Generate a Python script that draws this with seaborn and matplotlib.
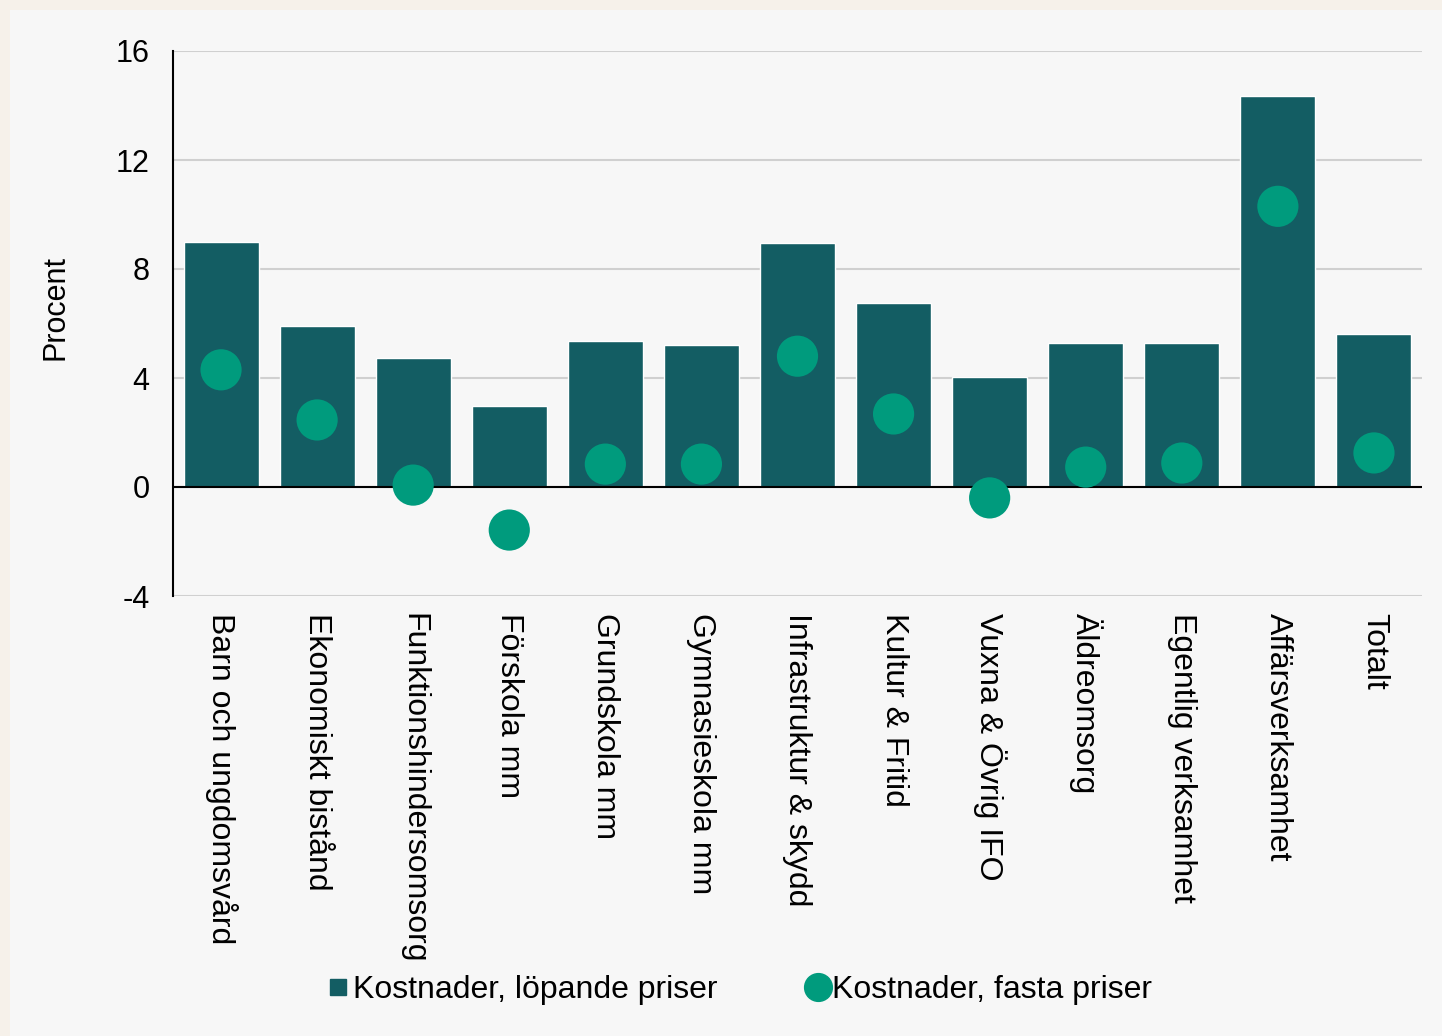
import matplotlib
matplotlib.use("Agg")
import matplotlib.pyplot as plt
import seaborn as sns
import pandas as pd
from matplotlib.lines import Line2D
from matplotlib.patches import Rectangle

categories = ["Barn och ungdomsvård", "Ekonomiskt bistånd", "Funktionshindersomsorg",
              "Förskola mm", "Grundskola mm", "Gymnasieskola mm", "Infrastruktur & skydd",
              "Kultur & Fritid", "Vuxna & Övrig IFO", "Äldreomsorg", "Egentlig verksamhet",
              "Affärsverksamhet", "Totalt"]
lopande = [9.0, 5.9, 4.73, 2.97, 5.36, 5.2, 8.95, 6.75, 4.04, 5.28, 5.28, 14.35, 5.6]
fasta = [4.3, 2.46, 0.07, -1.58, 0.84, 0.84, 4.8, 2.68, -0.4, 0.73, 0.88, 10.3, 1.25]
yticks = [-4, 0, 4, 8, 12, 16]

bar_color = "#135D63"
dot_color = "#009B7D"

df = pd.DataFrame({"cat": categories, "lop": lopande, "fast": fasta})

sns.set_theme(style="white")
plt.rcParams["font.family"] = ["Liberation Sans", "DejaVu Sans"]
plt.rcParams["text.color"] = "black"
plt.rcParams["axes.unicode_minus"] = False

fig = plt.figure(figsize=(14.42, 10.36), dpi=100, facecolor="#F6F1EA")
bg = Rectangle((10/1442, 0), 1 - 10/1442, 1 - 10/1036, transform=fig.transFigure,
               facecolor="#F7F7F7", edgecolor="none", zorder=-10)
fig.add_artist(bg)
ax = fig.add_axes([173/1442, 1 - 596/1036, (1422-173)/1442, (596-51)/1036])
ax.set_facecolor("#F7F7F7")

sns.barplot(data=df, x="cat", y="lop", color=bar_color, saturation=1, width=0.78, ax=ax, zorder=2)
sns.scatterplot(x=range(len(categories)), y=fasta, color=dot_color, s=880, edgecolor="none", ax=ax, zorder=3)

ax.set_ylim(-4, 16)
ax.set_xlim(-0.5, len(categories) - 0.5)
ax.set_yticks(yticks)
ax.yaxis.grid(True, color="#D0D0D0", linewidth=1.5, zorder=0)
ax.set_axisbelow(True)
ax.axhline(0, color="black", linewidth=1.5, zorder=2.5)
for s in ["top", "right", "bottom"]:
    ax.spines[s].set_visible(False)
ax.spines["left"].set_color("black")
ax.spines["left"].set_linewidth(1.5)
ax.tick_params(axis="y", labelsize=22, length=0, pad=17, colors="black")
ax.tick_params(axis="x", labelsize=23, length=0, pad=12, colors="black")
ax.set_xticks(range(len(categories)))
ax.set_xticklabels(categories, rotation=-90, va="top", ha="center")
ax.set_xlabel("")
ax.set_ylabel("Procent", fontsize=22, color="black")
ax.yaxis.set_label_coords((71 - 173) / (1422 - 173), (596 - 307) / (596 - 51))

handles = [Line2D([], [], marker="s", linestyle="none", color=bar_color, markersize=11),
           Line2D([], [], marker="o", linestyle="none", color=dot_color, markersize=20)]
fig.legend(handles, ["Kostnader, löpande priser", "Kostnader, fasta priser"],
           loc="center", bbox_to_anchor=(738/1442, 1 - 990/1036), ncol=2, frameon=False,
           fontsize=23, handletextpad=0.0, columnspacing=2.7, handlelength=0.9)

fig.savefig("out.png", dpi=100, facecolor=fig.get_facecolor())
